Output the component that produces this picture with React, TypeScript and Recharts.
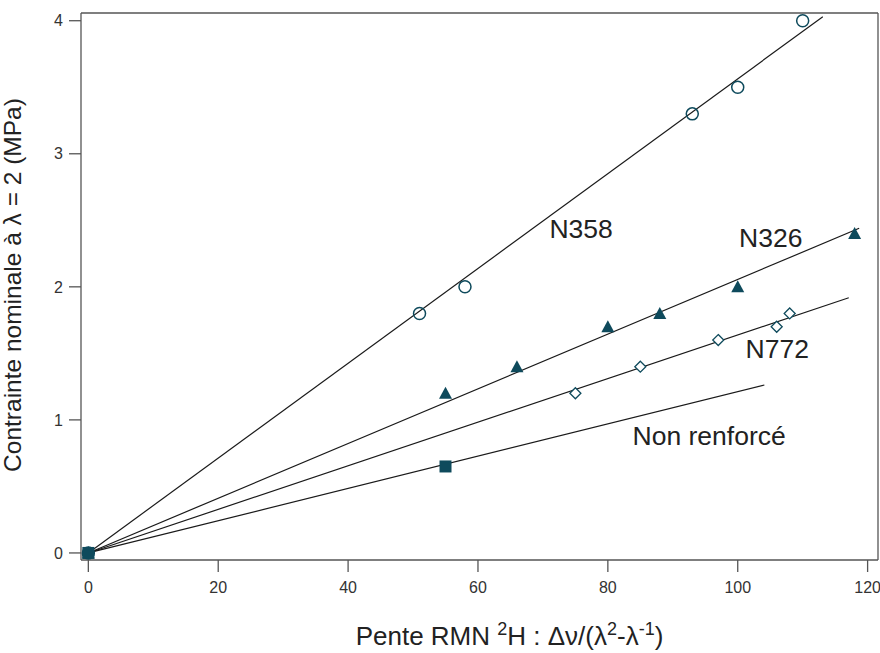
import React from 'react';
import {
    ComposedChart,
    XAxis,
    YAxis,
    Line,
    Scatter,
    ReferenceDot,
    Label,
} from 'recharts';

// measured points
const n358X = [0, 51, 58, 93, 100, 110];
const n358Y = [0, 1.8, 2.0, 3.3, 3.5, 4.0];
const n326X = [0, 55, 66, 80, 88, 100, 118];
const n326Y = [0, 1.2, 1.4, 1.7, 1.8, 2.0, 2.4];
const n772X = [0, 75, 85, 97, 106, 108];
const n772Y = [0, 1.2, 1.4, 1.6, 1.7, 1.8];
const nonRenfX = [0, 55];
const nonRenfY = [0, 0.65];

// linear fits through origin (start / end)
const fitN358X = [0, 113.1];
const fitN358Y = [0, 4.03];
const fitN326X = [0, 118.7];
const fitN326Y = [0, 2.44];
const fitN772X = [0, 117.1];
const fitN772Y = [0, 1.918];
const fitNonRenfX = [0, 104.1];
const fitNonRenfY = [0, 1.262];

const xTicks = [0, 20, 40, 60, 80, 100, 120];
const yTicks = [0, 1, 2, 3, 4];
const xDomain = [-1.13, 121.6];
const yDomain = [-0.053, 4.058];

// curve names, anchored at the left end of their baseline
const curveNames = ['N358', 'N326', 'N772', 'Non renforcé'];
const nameX = [71, 100.2, 101.2, 83.8];
const nameY = [2.37, 2.3, 1.465, 0.81];

const zip = (xs: number[], ys: number[]) => xs.map((x, i) => ({ x, y: ys[i] }));

const MARK = '#0e4a5c';
const FRAME = '#555';
const FONT = '"Liberation Sans", Arial, Helvetica, sans-serif';

const OpenCircle = (p: any) => (
    <circle cx={p.cx} cy={p.cy} r={6} fill="none" stroke={MARK} strokeWidth={1.5} />
);
const FilledTriangle = (p: any) => (
    <polygon
        points={`${p.cx},${p.cy - 6.5} ${p.cx - 6.5},${p.cy + 5.5} ${p.cx + 6.5},${p.cy + 5.5}`}
        fill={MARK}
    />
);
const OpenDiamond = (p: any) => (
    <polygon
        points={`${p.cx},${p.cy - 5.5} ${p.cx + 5.5},${p.cy} ${p.cx},${p.cy + 5.5} ${p.cx - 5.5},${p.cy}`}
        fill="#fff"
        stroke={MARK}
        strokeWidth={1.3}
    />
);
const FilledSquare = (p: any) => (
    <rect x={p.cx - 6} y={p.cy - 6} width={12} height={12} fill={MARK} />
);

const XTitle = (props: any) => {
    const { x, y, width } = props.viewBox;
    return (
        <text x={x + width / 2 + 30} y={y + 85} textAnchor="middle" fontSize={26} fill="#222" fontFamily={FONT}>
            <tspan>Pente RMN </tspan>
            <tspan fontSize={18} dy={-10}>2</tspan>
            <tspan dy={10}>H : Δν/(λ</tspan>
            <tspan fontSize={18} dy={-10}>2</tspan>
            <tspan dy={10}>-λ</tspan>
            <tspan fontSize={18} dy={-10}>-1</tspan>
            <tspan dy={10}>)</tspan>
        </text>
    );
};

const YTitle = () => (
    <text
        x={21}
        y={285}
        transform="rotate(-90, 21, 285)"
        textAnchor="middle"
        fontSize={24.5}
        fill="#222"
        fontFamily={FONT}
    >
        Contrainte nominale à λ = 2 (MPa)
    </text>
);

const CurveName = (text: string) => (props: any) => {
    const { x, y } = props.viewBox;
    return (
        <text x={x} y={y} fontSize={26.5} fill="#222" fontFamily={FONT}>
            {text}
        </text>
    );
};

const tickStyle = { fontSize: 16, fill: '#333', fontFamily: FONT };

export default function App() {
    return (
        <div style={{ width: 880, height: 653, background: '#fff' }}>
            <style>{'body{margin:0}'}</style>
            <ComposedChart width={880} height={653} margin={{ top: 13, right: 2, bottom: 0, left: 0 }}>
                <XAxis
                    xAxisId="b"
                    dataKey="x"
                    type="number"
                    domain={xDomain}
                    allowDataOverflow
                    ticks={xTicks}
                    interval={0}
                    height={93}
                    tickSize={12}
                    tickMargin={10}
                    tick={tickStyle}
                    stroke={FRAME}
                    strokeWidth={1.3}
                >
                    <Label content={XTitle} />
                </XAxis>
                <XAxis
                    xAxisId="t"
                    dataKey="x"
                    type="number"
                    orientation="top"
                    mirror
                    domain={xDomain}
                    allowDataOverflow
                    ticks={xTicks}
                    interval={0}
                    height={1}
                    tickSize={12}
                    tick={false}
                    stroke={FRAME}
                    strokeWidth={1.3}
                />
                <YAxis
                    yAxisId="l"
                    dataKey="y"
                    type="number"
                    domain={yDomain}
                    allowDataOverflow
                    ticks={yTicks}
                    interval={0}
                    width={81}
                    tickSize={12}
                    tickMargin={6}
                    tick={tickStyle}
                    stroke={FRAME}
                    strokeWidth={1.3}
                >
                    <Label content={YTitle} />
                </YAxis>
                <YAxis
                    yAxisId="r"
                    dataKey="y"
                    type="number"
                    orientation="right"
                    mirror
                    domain={yDomain}
                    allowDataOverflow
                    ticks={yTicks}
                    interval={0}
                    width={1}
                    tickSize={12}
                    tick={false}
                    stroke={FRAME}
                    strokeWidth={1.3}
                />

                {[
                    zip(fitN358X, fitN358Y),
                    zip(fitN326X, fitN326Y),
                    zip(fitN772X, fitN772Y),
                    zip(fitNonRenfX, fitNonRenfY),
                ].map((d, i) => (
                    <Line
                        key={`fit-${i}`}
                        data={d}
                        dataKey="y"
                        xAxisId="b"
                        yAxisId="l"
                        type="linear"
                        stroke="#1a1a1a"
                        strokeWidth={1.2}
                        dot={false}
                        activeDot={false}
                        isAnimationActive={false}
                    />
                ))}

                <Scatter data={zip(n358X, n358Y)} dataKey="y" xAxisId="b" yAxisId="l" shape={OpenCircle} isAnimationActive={false} />
                <Scatter data={zip(n326X, n326Y)} dataKey="y" xAxisId="b" yAxisId="l" shape={FilledTriangle} isAnimationActive={false} />
                <Scatter data={zip(n772X, n772Y)} dataKey="y" xAxisId="b" yAxisId="l" shape={OpenDiamond} isAnimationActive={false} />
                <Scatter data={zip(nonRenfX, nonRenfY)} dataKey="y" xAxisId="b" yAxisId="l" shape={FilledSquare} isAnimationActive={false} />

                {curveNames.map((name, i) => (
                    <ReferenceDot
                        key={name}
                        x={nameX[i]}
                        y={nameY[i]}
                        xAxisId="b"
                        yAxisId="l"
                        r={0}
                        fill="none"
                        stroke="none"
                        label={{ content: CurveName(name) }}
                    />
                ))}
            </ComposedChart>
        </div>
    );
}
